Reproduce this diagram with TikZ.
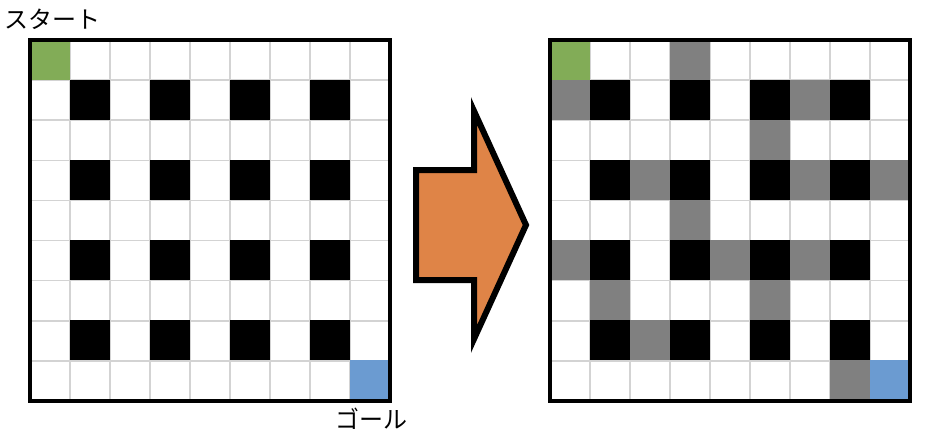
\documentclass[tikz,border=0pt]{standalone}
\usepackage{fontspec}
\newfontfamily\jpfont{Noto Sans CJK JP}
\definecolor{startgreen}{HTML}{82AC57}
\definecolor{goalblue}{HTML}{6B9BD1}
\definecolor{arroworange}{HTML}{DF8447}
\definecolor{pathgray}{HTML}{808080}
\definecolor{gridgray}{HTML}{D3D3D3}
\tikzset{
  gridline/.style={draw=gridgray, line width=1.6pt},
  border/.style={draw=black, line width=4pt},
  label/.style={font=\jpfont\fontsize{24}{26}\selectfont, inner sep=0pt},
  bigarrow/.style={draw=black, fill=arroworange, line width=6pt, line join=miter}
}
\begin{document}
\begin{tikzpicture}[x=1pt,y=-1pt]
\useasboundingbox (0,0) rectangle (930,436);
% cell helper: #1 origin x, #2 col, #3 row, #4 colour
\def\cell#1#2#3#4{\fill[#4] ({#1+40*#2},{40+40*#3}) rectangle ++(40,40.1);}
% ---------- left grid ----------
\foreach \i in {1,...,8} {
  \draw[gridline] ({30+40*\i},40) -- ({30+40*\i},401);
  \draw[gridline] (30,{40+40.1*\i}) -- (390,{40+40.1*\i});
}
\cell{30}{0}{0}{startgreen}
\cell{30}{8}{8}{goalblue}
\foreach \r in {1,3,5,7} \foreach \c in {1,3,5,7} { \cell{30}{\c}{\r}{black} }
\draw[border] (30,40) rectangle (390,401);
% ---------- right grid ----------
\foreach \i in {1,...,8} {
  \draw[gridline] ({550+40*\i},40) -- ({550+40*\i},401);
  \draw[gridline] (550,{40+40.1*\i}) -- (910,{40+40.1*\i});
}
\cell{550}{0}{0}{startgreen}
\cell{550}{8}{8}{goalblue}
\foreach \r in {1,3,5,7} \foreach \c in {1,3,5,7} { \cell{550}{\c}{\r}{black} }
\foreach \c/\r in {3/0, 0/1, 6/1, 5/2, 2/3, 6/3, 8/3, 3/4, 0/5, 4/5, 6/5, 1/6, 5/6, 2/7, 7/8} { \cell{550}{\c}{\r}{pathgray} }
\draw[border] (550,40) rectangle (910,401);
% ---------- arrow ----------
\draw[bigarrow] (416,170) -- (474,170) -- (474,111) -- (526,225) -- (474,339) -- (474,280) -- (416,280) -- cycle;
% ---------- labels ----------
\node[label, anchor=west] (start) at (4,19) {スタート};
\node[label, anchor=west] (goal) at (335,419) {ゴール};
\end{tikzpicture}
\end{document}
